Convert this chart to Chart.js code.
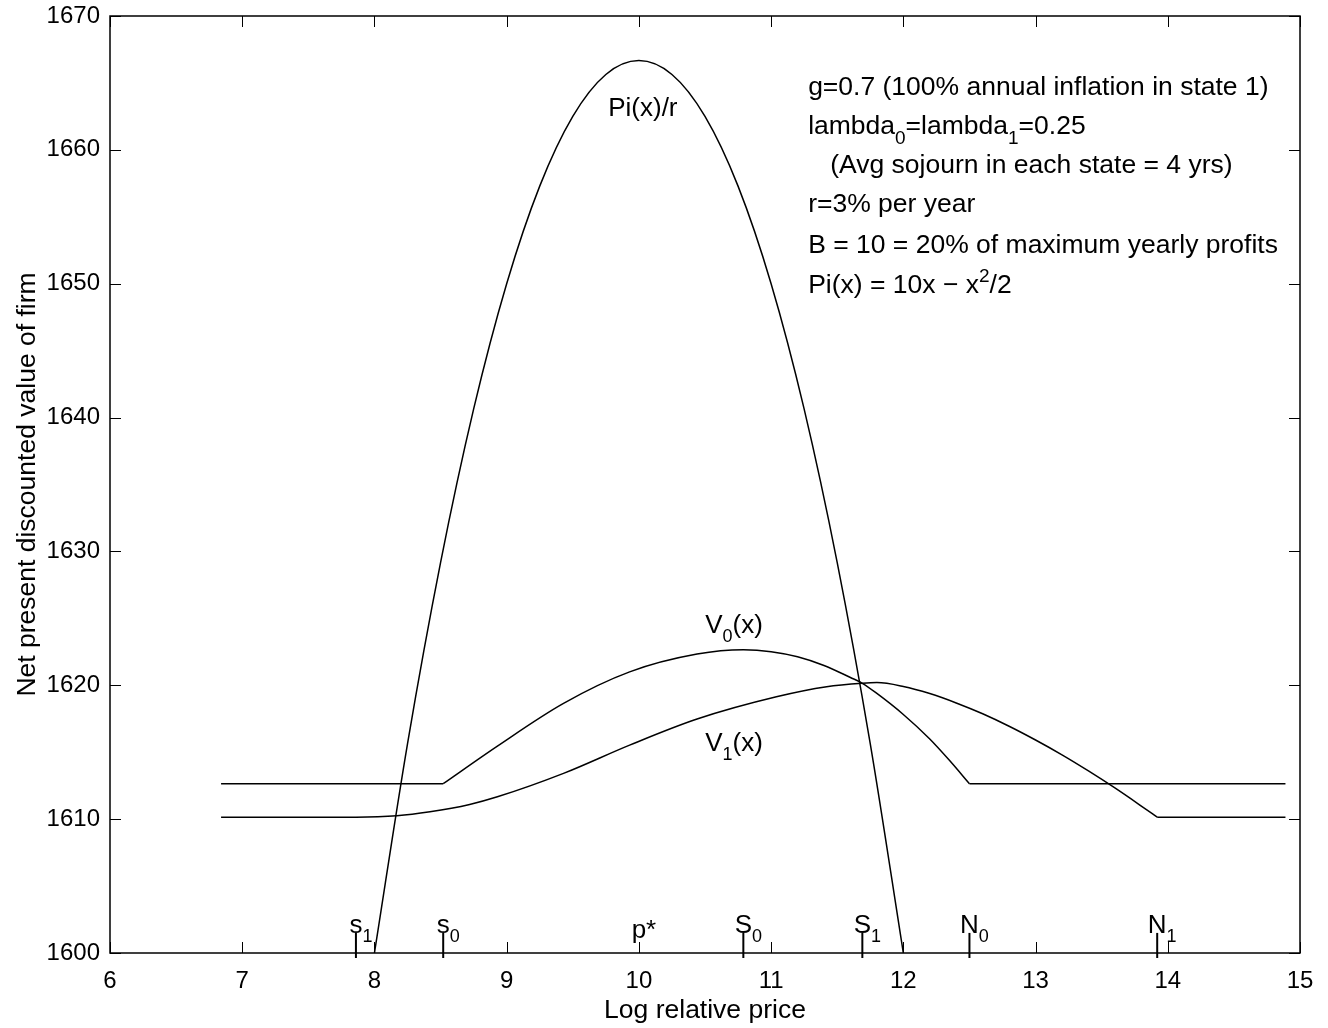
<!DOCTYPE html>
<html>
<head>
<meta charset="utf-8">
<script src="https://cdn.jsdelivr.net/npm/chart.js@4.4.1/dist/chart.umd.min.js"></script>
<style>
  html,body{margin:0;padding:0;background:#fff}
  #wrap{width:1328px;height:1028px}
</style>
</head>
<body>
<div id="wrap"><canvas id="chart" width="1328" height="1028"></canvas></div>
<script>
/* Value of the firm vs log relative price: Pi(x)/r, V0(x), V1(x) */

var FONT='"Liberation Sans", Arial, Helvetica, sans-serif';

// axis ticks
var xTicks=[6,7,8,9,10,11,12,13,14,15];
var yTicks=[1600,1610,1620,1630,1640,1650,1660,1670];

// Pi(x)/r
var piX=[8,8.25,8.5,8.75,9,9.25,9.5,9.75,10,10.25,10.5,10.75,11,11.25,11.5,11.75,12];
var piY=[1600,1615.63,1629.17,1640.63,1650,1657.29,1662.5,1665.63,1666.67,1665.63,1662.5,1657.29,1650,1640.63,1629.17,1615.63,1600];

// V0(x) — kinks at s0 and N0
var v0X=[6.84,8.52,8.93,9.43,9.93,10.44,10.79,11.0,11.2,11.4,11.6,11.69,11.8,12.0,12.2,12.35,12.5,14.89];
var v0Y=[1612.65,1612.65,1615.46,1618.65,1621.0,1622.33,1622.65,1622.51,1622.13,1621.48,1620.58,1620.15,1619.39,1617.82,1615.99,1614.38,1612.65,1612.65];
var v0Kinks=[1,16];

// V1(x) — smooth at s1, kink at N1
var v1X=[6.84,7.86,8.17,8.42,8.72,8.93,9.43,9.93,10.44,11.04,11.42,11.69,11.8,12.0,12.2,12.4,12.6,12.8,13.0,13.2,13.4,13.6,13.8,13.92,14.89];
var v1Y=[1610.15,1610.15,1610.25,1610.55,1611.1,1611.67,1613.42,1615.53,1617.48,1619.14,1619.89,1620.15,1620.2,1619.91,1619.38,1618.68,1617.87,1616.94,1615.91,1614.8,1613.6,1612.33,1610.98,1610.15,1610.15];
var v1Kinks=[23];

// threshold markers on the x axis (p* has only the label)
var markX=[7.86,8.52,10.0,10.79,11.69,12.5,13.92];
var markMain=['s','s','p*','S','S','N','N'];
var markSub=['1','0','','0','1','0','1'];
var markTick=[true,true,false,true,true,true,true];

// parameter notes (rich text: [text, 'sub'|'sup'|''])
var notes=[
  [['g=0.7 (100% annual inflation in state 1)','']],
  [['lambda',''],['0','sub'],['=lambda',''],['1','sub'],['=0.25','']],
  [['   (Avg sojourn in each state = 4 yrs)','']],
  [['r=3% per year','']],
  [['B = 10 = 20% of maximum yearly profits','']],
  [['Pi(x) = 10x \u2212 x',''],['2','sup'],['/2','']]
];

function splitAt(xs,ys,kinks){
  var cuts=[0].concat(kinks,[xs.length-1]),out=[];
  for(var k=0;k<cuts.length-1;k++){
    var seg=[];
    for(var i=cuts[k];i<=cuts[k+1];i++) seg.push({x:xs[i],y:ys[i]});
    out.push(seg);
  }
  return out;
}

function line(data){
  return {data:data,showLine:true,borderColor:'#000',borderWidth:1.5,pointRadius:0,
          cubicInterpolationMode:'monotone',fill:false};
}

var datasets=[line(splitAt(piX,piY,[])[0])];
splitAt(v0X,v0Y,v0Kinks).forEach(function(s){ datasets.push(line(s)); });
splitAt(v1X,v1Y,v1Kinks).forEach(function(s){ datasets.push(line(s)); });

function richWidth(ctx,parts,size){
  var w=0;
  parts.forEach(function(p){
    ctx.font=(p[1]?Math.round(size*0.7):size)+'px '+FONT;
    w+=ctx.measureText(p[0]).width;
  });
  return w;
}
function drawRich(ctx,x,y,parts,size,align){
  var w=richWidth(ctx,parts,size);
  var cx=align==='center'?x-w/2:x;
  ctx.textAlign='left';ctx.textBaseline='alphabetic';
  parts.forEach(function(p){
    var s=p[1]?Math.round(size*0.7):size;
    var dy=p[1]==='sub'?size*0.36:(p[1]==='sup'?-size*0.42:0);
    ctx.font=s+'px '+FONT;
    ctx.fillText(p[0],cx,y+dy);
    cx+=ctx.measureText(p[0]).width;
  });
}

var decor={
  id:'decor',
  afterDraw:function(chart){
    var ctx=chart.ctx,a=chart.chartArea,xs=chart.scales.x,ys=chart.scales.y;
    ctx.save();
    ctx.strokeStyle='#000';ctx.fillStyle='#000';
    // box
    ctx.lineWidth=1.5;
    ctx.strokeRect(a.left,a.top,a.right-a.left,a.bottom-a.top);
    // inward ticks on all sides
    ctx.lineWidth=1;
    var tl=11;
    ctx.beginPath();
    xTicks.forEach(function(v){
      var px=Math.round(xs.getPixelForValue(v))+0.5;
      ctx.moveTo(px,a.bottom);ctx.lineTo(px,a.bottom-tl);
      ctx.moveTo(px,a.top);ctx.lineTo(px,a.top+tl);
    });
    yTicks.forEach(function(v){
      var py=Math.round(ys.getPixelForValue(v))+0.5;
      ctx.moveTo(a.left,py);ctx.lineTo(a.left+tl,py);
      ctx.moveTo(a.right,py);ctx.lineTo(a.right-tl,py);
    });
    ctx.stroke();
    // threshold markers
    ctx.lineWidth=2;
    var topY=ys.getPixelForValue(1601.5);
    markX.forEach(function(v,i){
      var px=xs.getPixelForValue(v);
      if(markTick[i]){
        ctx.beginPath();ctx.moveTo(px,a.bottom+5);ctx.lineTo(px,topY);ctx.stroke();
      }
      ctx.font='26px '+FONT;
      var mw=ctx.measureText(markMain[i].charAt(0)).width;
      var parts=[[markMain[i],'']];
      if(markSub[i]) parts.push([markSub[i],'sub']);
      drawRich(ctx,px-mw/2,a.bottom-(markTick[i]?20:15),parts,26,'left');
    });
    // curve labels
    drawRich(ctx,xs.getPixelForValue(10.03),ys.getPixelForValue(1662.5),[['Pi(x)/r','']],26,'center');
    drawRich(ctx,xs.getPixelForValue(10.72),ys.getPixelForValue(1623.9),[['V',''],['0','sub'],['(x)','']],26,'center');
    drawRich(ctx,xs.getPixelForValue(10.72),ys.getPixelForValue(1615.1),[['V',''],['1','sub'],['(x)','']],26,'center');
    // parameter notes
    var nx=xs.getPixelForValue(11.28);
    var base=[95,134,173,212,253,293];
    notes.forEach(function(parts,i){
      drawRich(ctx,nx,base[i],parts,26.5,'left');
    });
    ctx.restore();
  }
};

new Chart(document.getElementById('chart'),{
  type:'scatter',
  data:{datasets:datasets},
  options:{
    responsive:false,animation:false,
    layout:{padding:{top:16,right:28,left:0,bottom:0}},
    plugins:{legend:{display:false},tooltip:{enabled:false}},
    scales:{
      x:{type:'linear',min:6,max:15,
         afterFit:function(s){s.height=75;s.paddingLeft=0;s.paddingRight=0;},
         grid:{display:false,drawTicks:false},border:{display:false},
         ticks:{stepSize:1,color:'#000',padding:14,font:{family:FONT,size:24},
                callback:function(v){return String(v);}},
         title:{display:true,text:'Log relative price',color:'#000',font:{family:FONT,size:26.5},padding:{top:0,bottom:1}}},
      y:{type:'linear',min:1600,max:1670,
         afterFit:function(s){s.width=110;s.paddingTop=0;s.paddingBottom=0;},
         grid:{display:false,drawTicks:false},border:{display:false},
         ticks:{stepSize:10,color:'#000',padding:10,font:{family:FONT,size:24},
                callback:function(v){return String(v);}},
         title:{display:true,text:'Net present discounted value of firm',color:'#000',font:{family:FONT,size:26.5},padding:{top:12,bottom:0}}}
    }
  },
  plugins:[decor]
});
</script>
</body>
</html>
